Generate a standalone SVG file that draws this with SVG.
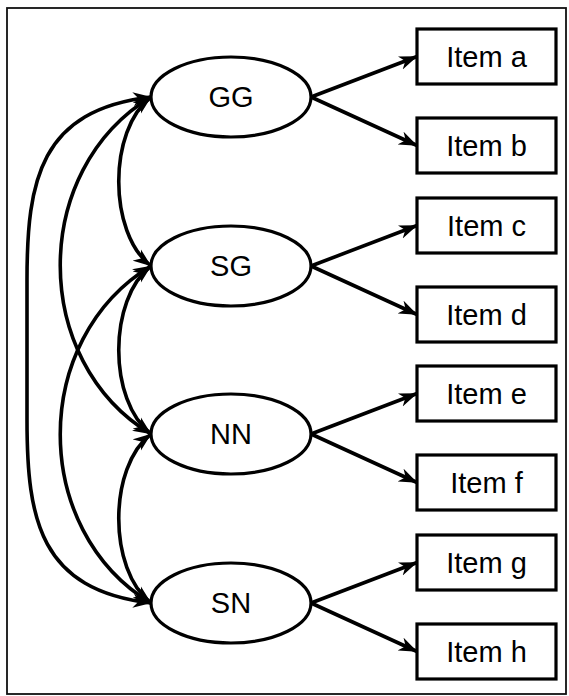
<svg xmlns="http://www.w3.org/2000/svg" width="569" height="696" viewBox="0 0 569 696">
<defs>
<marker id="ah" markerUnits="userSpaceOnUse" markerWidth="19" markerHeight="15" viewBox="0 0 19 15" refX="18" refY="7.5" orient="auto-start-reverse">
<path d="M0,0.5 L18.5,7.5 L0,14.5 L5.5,7.5 Z" fill="#000"/>
</marker>
<style>
.frame{fill:#fff;stroke:#111;stroke-width:1.8}
.ell{fill:#fff;stroke:#000;stroke-width:3.2}
.box{fill:#fff;stroke:#000;stroke-width:3.2}
.lbl{font-family:"Liberation Sans",Arial,sans-serif;font-size:29px;fill:#000;text-anchor:middle}
.c{fill:none;stroke:#000;stroke-width:3.6;marker-end:url(#ah)}
.b{fill:none;stroke:#000;stroke-width:3.6;marker-start:url(#ah);marker-end:url(#ah)}
</style>
</defs>
<rect class="frame" x="7" y="8" width="559" height="686"/>
<g id="connectors">
<path class="c" d="M311,97 L417,56.5"/>
<path class="c" d="M311,97 L417,145.5"/>
<path class="c" d="M311,266 L417,225.5"/>
<path class="c" d="M311,266 L417,314.5"/>
<path class="c" d="M311,434 L417,393.5"/>
<path class="c" d="M311,434 L417,482.5"/>
<path class="c" d="M311,603 L417,562.5"/>
<path class="c" d="M311,603 L417,651.5"/>
<path class="b" d="M151,97 C108,130 108,233 151,266"/>
<path class="b" d="M151,266 C108,299 108,401 151,434"/>
<path class="b" d="M151,434 C108,467 108,570 151,603"/>
<path class="b" d="M151,97 C30,170 30,361 151,434"/>
<path class="b" d="M151,266 C30,339 30,530 151,603"/>
<path class="b" d="M151,97 C40,110 27,180 27,280 L27,420 C27,520 40,590 151,603"/>
</g>
<g id="GG"><ellipse class="ell" cx="231" cy="97" rx="80" ry="40"/><text class="lbl" x="231" y="107">GG</text></g>
<g id="SG"><ellipse class="ell" cx="231" cy="266" rx="80" ry="40"/><text class="lbl" x="231" y="276">SG</text></g>
<g id="NN"><ellipse class="ell" cx="231" cy="434" rx="80" ry="40"/><text class="lbl" x="231" y="444">NN</text></g>
<g id="SN"><ellipse class="ell" cx="231" cy="603" rx="80" ry="40"/><text class="lbl" x="231" y="613">SN</text></g>
<g id="item-a"><rect class="box" x="417" y="29" width="139" height="55"/><text class="lbl" x="486.5" y="67">Item a</text></g>
<g id="item-b"><rect class="box" x="417" y="118" width="139" height="55"/><text class="lbl" x="486.5" y="156">Item b</text></g>
<g id="item-c"><rect class="box" x="417" y="198" width="139" height="55"/><text class="lbl" x="486.5" y="236">Item c</text></g>
<g id="item-d"><rect class="box" x="417" y="287" width="139" height="55"/><text class="lbl" x="486.5" y="325">Item d</text></g>
<g id="item-e"><rect class="box" x="417" y="366" width="139" height="55"/><text class="lbl" x="486.5" y="404">Item e</text></g>
<g id="item-f"><rect class="box" x="417" y="455" width="139" height="55"/><text class="lbl" x="486.5" y="493">Item f</text></g>
<g id="item-g"><rect class="box" x="417" y="535" width="139" height="55"/><text class="lbl" x="486.5" y="573">Item g</text></g>
<g id="item-h"><rect class="box" x="417" y="624" width="139" height="55"/><text class="lbl" x="486.5" y="662">Item h</text></g>
</svg>
